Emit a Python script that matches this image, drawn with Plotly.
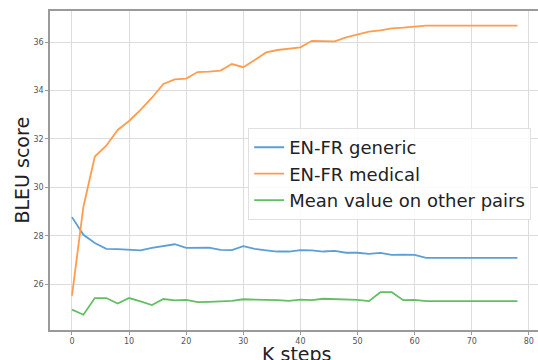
import plotly.graph_objects as go

k_steps = list(range(0, 80, 2))

en_fr_generic = [28.77, 28.04, 27.70, 27.46, 27.45, 27.41, 27.40, 27.50, 27.57, 27.65,
                 27.50, 27.51, 27.51, 27.42, 27.41, 27.57, 27.46, 27.40, 27.35, 27.35,
                 27.41, 27.40, 27.35, 27.38, 27.30, 27.30, 27.25, 27.29, 27.21, 27.22,
                 27.21, 27.09, 27.09, 27.09, 27.09, 27.09, 27.09, 27.09, 27.09, 27.09]

en_fr_medical = [25.53, 29.20, 31.27, 31.72, 32.37, 32.74, 33.20, 33.70, 34.27, 34.46,
                 34.49, 34.76, 34.78, 34.82, 35.09, 34.96, 35.26, 35.57, 35.67, 35.72,
                 35.78, 36.05, 36.03, 36.03, 36.19, 36.32, 36.43, 36.48, 36.56, 36.59,
                 36.63, 36.68, 36.68, 36.68, 36.68, 36.68, 36.68, 36.68, 36.68, 36.68]

mean_other_pairs = [24.95, 24.74, 25.43, 25.43, 25.20, 25.43, 25.29, 25.14, 25.39, 25.33,
                    25.35, 25.26, 25.27, 25.30, 25.31, 25.38, 25.35, 25.35, 25.34, 25.31,
                    25.36, 25.34, 25.40, 25.39, 25.39, 25.35, 25.30, 25.67, 25.67, 25.34,
                    25.35, 25.30, 25.30, 25.30, 25.30, 25.30, 25.30, 25.30, 25.30, 25.30]

series_names = ["EN-FR generic", "EN-FR medical", "Mean value on other pairs"]
series_colors = ["#5b9fd6", "#ff9d4d", "#62bf62"]
x_ticks = [0, 10, 20, 30, 40, 50, 60, 70, 80]
y_ticks = [26, 28, 30, 32, 34, 36]

fig = go.Figure()
for name, vals, col in zip(series_names, [en_fr_generic, en_fr_medical, mean_other_pairs], series_colors):
    fig.add_trace(go.Scatter(x=k_steps, y=vals, mode="lines", name=name,
                             line=dict(color=col, width=1.8)))

axis_common = dict(showgrid=True, gridcolor="#dcdcdc", gridwidth=1,
                   showline=True, linecolor="#9a9a9a", linewidth=1.5, mirror=True,
                   ticks="outside", ticklen=3, tickcolor="#9a9a9a",
                   tickfont=dict(family="DejaVu Sans", size=8, color="#555555"),
                   zeroline=False, automargin=False)

fig.update_layout(
    width=538, height=360,
    margin=dict(l=50, r=0, t=11, b=30),
    paper_bgcolor="white", plot_bgcolor="white",
    font=dict(family="DejaVu Sans", color="#222222"),
    showlegend=True,
    legend=dict(x=0.986, y=0.633, xanchor="right", yanchor="top",
                bgcolor="rgba(255,255,255,0.85)", bordercolor="#e0e0e0", borderwidth=1,
                font=dict(family="DejaVu Sans", size=18, color="#222222"),
                tracegroupgap=0, itemwidth=30),
    xaxis=dict(range=[-3.85, 81.6], tickvals=x_ticks, **axis_common),
    yaxis=dict(range=[24.11, 37.28], tickvals=y_ticks, **axis_common),
    annotations=[
        dict(text="K steps", xref="paper", yref="paper", x=0.506, y=-0.076,
             xanchor="center", yanchor="middle", showarrow=False,
             font=dict(family="DejaVu Sans", size=19, color="#222222")),
        dict(text="BLEU score", xref="paper", yref="paper", x=-0.058, y=0.502,
             xanchor="center", yanchor="middle", showarrow=False, textangle=-90,
             font=dict(family="DejaVu Sans", size=19, color="#222222")),
    ],
)

fig.write_html("out.html", config={"displayModeBar": False},
               post_script="document.body.style.margin='0';")
